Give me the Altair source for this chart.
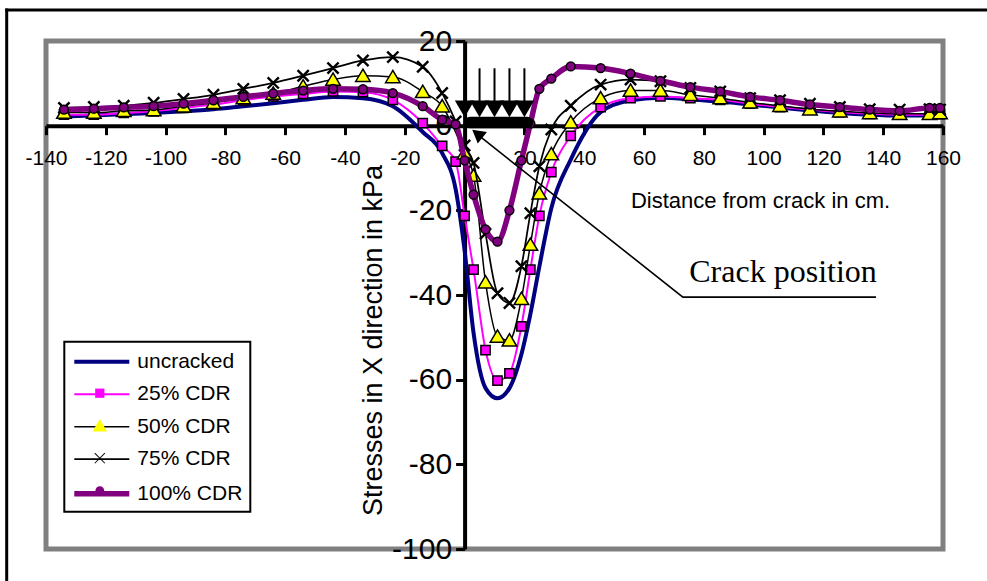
import altair as alt
import pandas as pd

# ---------------- data ----------------
x_pos = [-134, -124, -114, -104, -94, -84, -74, -64, -54, -44, -34, -24, -14,
         -7.5, -3, 0, 3, 7, 11, 15, 19, 22, 25, 29,
         35.5, 45.5, 55.5, 65.5, 75.5, 85.5, 95.5, 105.5, 115.5, 125.5, 135.5,
         145.5, 155.5, 159]

uncracked = [2.2, 2.4, 2.7, 3.0, 3.4, 3.9, 4.6, 5.3, 6.1, 6.8, 6.5, 4.6, -1.5,
             -6.5, -15.0, -29.5, -49.0, -62.0, -64.4, -62.0, -54.0, -44.5, -33.3, -19.5,
             -8.0, 3.2, 6.0, 6.6, 6.2, 5.7, 5.0, 4.3, 3.6, 3.0, 2.6, 2.4, 2.4, 2.5]
cdr25 = [2.6, 2.6, 3.0, 3.4, 4.2, 5.0, 6.0, 6.9, 7.5, 8.1, 7.9, 6.1, 0.6,
         -4.8, -8.5, -21.3, -34.0, -53.0, -60.2, -58.5, -47.4, -34.0, -21.3, -11.0,
         -2.4, 4.4, 6.5, 6.9, 6.5, 6.1, 5.2, 4.4, 3.8, 3.2, 2.8, 2.6, 2.6, 2.7]
cdr50 = [3.1, 3.1, 3.5, 3.7, 4.6, 5.4, 6.5, 7.6, 9.3, 10.9, 11.8, 11.5, 8.0,
         4.6, None, -6.5, -11.8, -37.0, -49.8, -50.7, -40.9, -28.1, -16.0, -6.7,
         0.8, 6.5, 8.3, 8.3, 7.3, 6.5, 5.5, 4.7, 3.9, 3.4, 3.0, 2.8, 2.8, 3.0]
cdr75 = [4.2, 4.4, 4.7, 5.4, 6.3, 7.3, 8.7, 10.1, 11.8, 13.6, 15.4, 16.2, 13.9,
         7.7, 1.0, -4.7, -8.8, -25.5, -39.6, -41.9, -33.2, -20.7, -9.6, -0.9,
         4.7, 9.7, 10.9, 10.5, 8.9, 8.1, 6.5, 6.0, 5.2, 4.4, 3.9, 3.8, 3.9, 3.8]
cdr100 = [3.8, 4.0, 4.3, 4.6, 5.2, 6.0, 6.8, 7.6, 8.3, 8.7, 8.6, 7.7, 4.6,
          1.4, 0.3, -8.2, -16.3, -24.5, -27.4, -20.0, -8.2, 0.5, 8.7, 11.1,
          14.0, 13.6, 12.3, 10.6, 9.1, 8.1, 6.8, 6.0, 5.0, 4.4, 3.8, 3.5, 4.2, 4.2]

series_names = ["uncracked", "25% CDR", "50% CDR", "75% CDR", "100% CDR"]
series_values = [uncracked, cdr25, cdr50, cdr75, cdr100]

x_ticks = list(range(-140, 161, 20))
y_ticks = list(range(-100, 21, 20))

# load diagram (uniform load from 0 to 20 cm) and crack call-out
load_x = [0, 5, 10, 15, 20]
load_top = 13.55
load_bottom = 5.6
load_tri_y = 3.96
bar_x = [1.8]
bar_x2 = [21.0]
bar_y = [0.75]
callout_x = [4.5, 73.0, 137.6]
callout_y = [-2.2, -40.5, -40.5]
arrowhead_x = [4.25]
arrowhead_y = [-1.92]
label_x = [106.5]
label_y = [-36.9]
label_text = ["Crack position"]

# ---------------- styles ----------------
line_color = {"uncracked": "#000080", "25% CDR": "#FF00FF", "50% CDR": "#000000",
              "75% CDR": "#000000", "100% CDR": "#800080"}
# stroke widths on a point scale from 1.5 to 5.5 in steps of 0.25
sw_slots = {0: "50% CDR", 1: "75% CDR", 2: "25% CDR", 10: "uncracked", 16: "100% CDR"}
sw_domain = [sw_slots.get(i, "~%d" % i) for i in range(17)]
color_range = [line_color.get(d, "#000000") for d in sw_domain]

marker_shape = {
    "uncracked": "M0,0",
    "25% CDR": "M-0.42,-0.42H0.42V0.42H-0.42Z",
    "50% CDR": "M0,-0.6L0.66,0.52H-0.66Z",
    "75% CDR": ("M-0.49,-0.43L0.43,0.49L0.49,0.43L-0.43,-0.49Z"
                "M-0.43,0.49L0.49,-0.43L0.43,-0.49L-0.49,0.43Z"),
    "100% CDR": "M-0.4,0A0.4,0.4,0,1,0,0.4,0A0.4,0.4,0,1,0,-0.4,0Z",
}
marker_fill = {"uncracked": "transparent", "25% CDR": "#FF00FF", "50% CDR": "#FFFF00",
               "75% CDR": "#000000", "100% CDR": "#800080"}
m_domain = series_names + ["~"]
shape_range = [marker_shape.get(d, "M0,0") for d in m_domain]
fill_range = [marker_fill.get(d, "transparent") for d in m_domain]

rows = []
for name, vals in zip(series_names, series_values):
    for xv, yv in zip(x_pos, vals):
        if yv is None:
            continue
        rows.append({"x": xv, "y": yv, "series": name, "series_m": name})
df = pd.DataFrame(rows)

W, H = 897, 508
PAD_L, PAD_T = 46, 41
TOTAL_W, TOTAL_H = 987, 581
x0_px = W * 140 / 300
y0_px = H * 20 / 120
FONT = "Liberation Sans"

x_scale = alt.Scale(domain=[-140, 160], nice=False, zero=False)
y_scale = alt.Scale(domain=[-100, 20], nice=False, zero=False)

x_axis = alt.Axis(
    values=x_ticks, offset=-(H - y0_px), grid=False,
    domainColor="black", domainWidth=4,
    tickColor="black", tickWidth=3, tickSize=9,
    labelExpr="datum.value == 0 ? '' : toString(datum.value)",
    labelFont=FONT, labelFontSize=21, labelColor="black", labelPadding=13,
    labelFlush=False, labelOverlap=False,
    title="Distance from crack in cm.", titleFont=FONT, titleFontSize=22,
    titleFontWeight="normal", titleColor="black",
    titleX=714, titleY=75, titleAlign="center", titleBaseline="middle",
)
y_axis = alt.Axis(
    values=y_ticks, offset=-x0_px, grid=False,
    domainColor="black", domainWidth=4,
    tickColor="black", tickWidth=3, tickSize=9,
    labelExpr="datum.value >= 0 ? toString(datum.value) + '\u00a0' : toString(datum.value)",
    labelFont=FONT, labelFontSize=30, labelColor="black", labelPadding=4,
    labelOverlap=False, labelFlush=False,
    title="Stresses in X direction in kPa", titleFont=FONT, titleFontSize=27,
    titleFontWeight="normal", titleColor="black", titleAngle=270,
    titleX=-(464.6 - 373), titleY=299, titleAlign="center", titleBaseline="middle",
)


def X(field):
    return alt.X(field, type="quantitative", scale=x_scale, axis=x_axis)


def Y(field):
    return alt.Y(field, type="quantitative", scale=y_scale, axis=y_axis)


LEG_X, LEG_Y = 18.3, 300.7
legend_lines = alt.Legend(
    title=None, orient="none", legendX=LEG_X, legendY=LEG_Y, values=series_names,
    symbolType="M-2.5,0H2.5", symbolSize=484, symbolOffset=16.5,
    labelOffset=21.5, labelFont=FONT, labelFontSize=21, labelColor="black",
    labelLimit=400, rowPadding=10.5, padding=7,
    fillColor="white", strokeColor="black",
)
legend_marks = alt.Legend(
    title=None, orient="none", legendX=LEG_X, legendY=LEG_Y, values=series_names,
    symbolSize=484, symbolOffset=16.5, symbolStrokeColor="black", symbolStrokeWidth=1.5,
    labelOffset=21.5, labelFont=FONT, labelFontSize=21, labelColor="black",
    labelExpr="'\u00a0'", labelLimit=400, rowPadding=10.5, padding=7,
)

color_enc = alt.Color("series:N", scale=alt.Scale(domain=sw_domain, range=color_range),
                      legend=legend_lines)
sw_enc = alt.StrokeWidth("series:N", scale=alt.Scale(type="point", domain=sw_domain,
                                                     range=[1.5, 5.5], padding=0),
                         legend=legend_lines)
fill_enc = alt.Fill("series_m:N", scale=alt.Scale(domain=m_domain, range=fill_range),
                    legend=legend_marks)
shape_enc = alt.Shape("series_m:N", scale=alt.Scale(domain=m_domain, range=shape_range),
                      legend=legend_marks)

layers = []

# outer frame of the figure (only the top and left edges fall inside the picture)
one = pd.DataFrame({"k": [0]})
layers.append(
    alt.Chart(one).mark_rule(color="black", strokeWidth=3).encode(
        x=alt.value(-39.3), y=alt.value(-32.5), y2=alt.value(TOTAL_H - PAD_T))
)
layers.append(
    alt.Chart(one).mark_rule(color="black", strokeWidth=3).encode(
        x=alt.value(-40.8), x2=alt.value(TOTAL_W - PAD_L), y=alt.value(-31))
)

for name in series_names:
    sub = alt.Chart(df).transform_filter(alt.datum.series == name)
    layers.append(
        sub.mark_line(interpolate="monotone").encode(
            x=X("x"), y=Y("y"), color=color_enc, strokeWidth=sw_enc
        )
    )
    if name != "uncracked":
        layers.append(
            sub.mark_point(filled=True, stroke="black", strokeWidth=1.5, size=484,
                           opacity=1).encode(
                x=X("x"), y=Y("y"), fill=fill_enc, shape=shape_enc
            )
        )

load_df = pd.DataFrame({"lx": load_x, "ltop": [load_top] * len(load_x),
                        "lbot": [load_bottom] * len(load_x),
                        "ltri": [load_tri_y] * len(load_x)})
bar_df = pd.DataFrame({"bx": bar_x, "bx2": bar_x2, "by": bar_y})
layers.append(
    alt.Chart(bar_df).mark_rule(color="black", strokeWidth=11.5, strokeCap="round").encode(
        x=X("bx"), x2="bx2:Q", y=Y("by"))
)
layers.append(
    alt.Chart(load_df).mark_rule(color="black", strokeWidth=2).encode(
        x=X("lx"), y=Y("ltop"), y2="lbot:Q")
)
layers.append(
    alt.Chart(load_df).mark_point(shape="triangle-down", filled=True, color="black",
                                  size=380, opacity=1).encode(x=X("lx"), y=Y("ltri"))
)

callout_df = pd.DataFrame({"cx": callout_x, "cy": callout_y})
layers.append(
    alt.Chart(callout_df).mark_line(color="black", strokeWidth=1.6).encode(
        x=X("cx"), y=Y("cy"))
)
head_df = pd.DataFrame({"hx": arrowhead_x, "hy": arrowhead_y})
layers.append(
    alt.Chart(head_df).mark_point(shape="triangle-up", filled=True, color="black",
                                  size=220, angle=308, opacity=1).encode(
        x=X("hx"), y=Y("hy"))
)
text_df = pd.DataFrame({"tx": label_x, "ty": label_y, "t": label_text})
layers.append(
    alt.Chart(text_df).mark_text(font="Liberation Serif", fontSize=32, color="black",
                                 align="center", baseline="alphabetic").encode(
        x=X("tx"), y=Y("ty"), text="t:N")
)

chart = alt.layer(*layers).properties(
    width=W, height=H,
    autosize=alt.AutoSizeParams(type="none"),
    padding={"left": PAD_L, "top": PAD_T, "right": TOTAL_W - PAD_L - W,
             "bottom": TOTAL_H - PAD_T - H},
    background="white",
).configure_view(stroke="#808080", strokeWidth=5).configure_legend(strokeWidth=2)

chart.save("out.html", embed_options={"renderer": "svg", "actions": False})
